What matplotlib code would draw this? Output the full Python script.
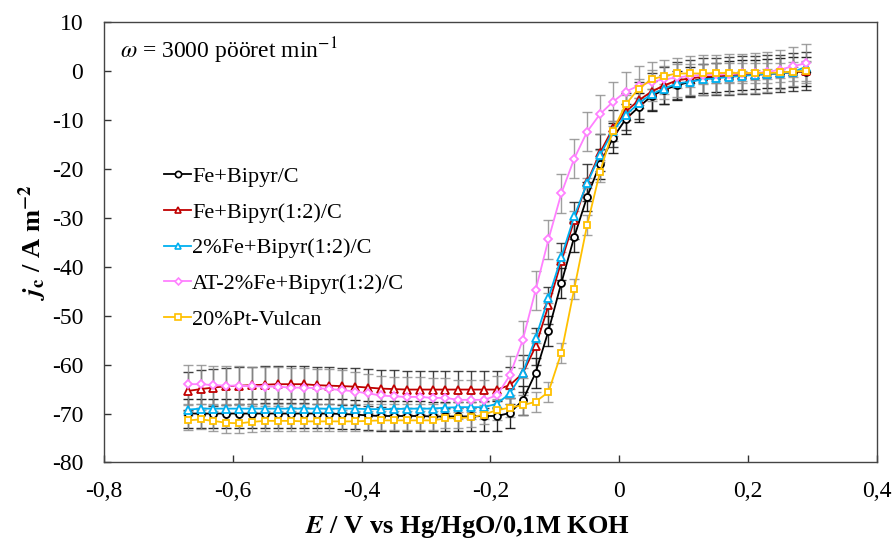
import matplotlib
matplotlib.use("Agg")
import matplotlib.pyplot as plt
from matplotlib.ticker import FuncFormatter, MultipleLocator
from matplotlib.lines import Line2D

plt.rcParams['font.family'] = ['Liberation Serif', 'DejaVu Serif']
plt.rcParams['mathtext.fontset'] = 'stix'

# potential, V vs Hg/HgO
E = [-0.67, -0.65, -0.63, -0.61, -0.59, -0.57, -0.55, -0.53, -0.51, -0.49,
     -0.47, -0.45, -0.43, -0.41, -0.39, -0.37, -0.35, -0.33, -0.31, -0.29,
     -0.27, -0.25, -0.23, -0.21, -0.19, -0.17, -0.15, -0.13, -0.11, -0.09,
     -0.07, -0.05, -0.03, -0.01, 0.01, 0.03, 0.05,
     0.07, 0.09, 0.11, 0.13, 0.15, 0.17, 0.19, 0.21, 0.23, 0.25, 0.27, 0.29]

fe_bipyr = [-70.0, -70.0, -70.0, -70.0, -70.0, -70.0, -70.0, -70.0, -70.0, -70.0,
            -70.0, -70.0, -70.1, -70.2, -70.4, -70.5, -70.5, -70.5, -70.5, -70.6,
            -70.6, -70.6, -70.6, -70.5, -70.5, -69.9, -67.3, -61.7, -53.1, -43.3,
            -33.9, -25.7, -19.0, -13.7, -9.8, -7.4, -5.1,
            -3.8, -2.9, -2.2, -1.5, -1.3, -1.0, -0.8, -0.7, -0.5, -0.4, -0.2, -0.1]

fe_bipyr_12 = [-65.4, -65.0, -64.7, -64.4, -64.3, -64.2, -64.1, -64.0, -64.0, -64.0,
               -64.2, -64.3, -64.4, -64.5, -64.7, -64.9, -65.0, -65.1, -65.1, -65.1,
               -65.1, -65.1, -65.1, -65.1, -65.1, -64.2, -61.8, -56.3, -47.9, -38.9,
               -30.5, -22.7, -16.7, -11.7, -8.3, -6.0, -4.2,
               -2.9, -1.9, -1.5, -1.2, -1.1, -1.0, -0.8, -0.8, -0.6, -0.5, -0.2, 0.0]

fe2_bipyr_12 = [-69.2, -69.0, -69.0, -69.0, -69.0, -69.0, -69.0, -69.0, -69.0, -69.0,
                -69.0, -69.0, -69.0, -69.0, -69.1, -69.1, -69.1, -69.0, -69.0, -69.0,
                -68.8, -68.7, -68.7, -68.7, -68.0, -65.9, -61.7, -54.6, -46.4, -38.0,
                -29.7, -22.9, -17.2, -12.3, -9.0, -6.6, -4.7,
                -3.6, -2.5, -2.2, -1.7, -1.5, -1.2, -1.0, -0.8, -0.6, -0.5, -0.2, 0.9]

at_fe2_bipyr_12 = [-64.0, -64.0, -64.2, -64.3, -64.3, -64.4, -64.5, -64.5, -64.7, -64.7,
                   -64.8, -65.0, -65.2, -65.5, -65.9, -66.3, -66.5, -66.6, -66.6, -66.8,
                   -66.8, -67.2, -67.2, -67.2, -66.3, -62.2, -55.0, -44.8, -34.4, -25.0,
                   -17.9, -12.4, -8.8, -6.3, -4.2, -3.0, -2.2,
                   -1.7, -1.3, -1.0, -0.8, -0.7, -0.6, -0.5, -0.4, -0.2, 0.3, 1.0, 1.6]

pt_vulcan = [-71.4, -71.2, -71.5, -71.9, -72.0, -71.7, -71.5, -71.5, -71.5, -71.6,
             -71.6, -71.6, -71.6, -71.6, -71.5, -71.4, -71.4, -71.4, -71.4, -71.4,
             -71.0, -70.9, -70.8, -70.2, -69.3, -68.8, -68.3, -67.6, -65.6, -57.6,
             -44.5, -31.5, -20.6, -12.2, -6.8, -3.6, -1.7,
             -1.0, -0.5, -0.5, -0.5, -0.4, -0.4, -0.4, -0.4, -0.4, -0.3, -0.1, 0.0]

# error bar half-widths (approx.)
err = [3.0, 3.8, 1.0, 4.0, 2.0]

labels = ["Fe+Bipyr/C", "Fe+Bipyr(1:2)/C", "2%Fe+Bipyr(1:2)/C",
          "AT-2%Fe+Bipyr(1:2)/C", "20%Pt-Vulcan"]
series = [fe_bipyr, fe_bipyr_12, fe2_bipyr_12, at_fe2_bipyr_12, pt_vulcan]
colors = ["#000000", "#C00000", "#00B0F0", "#FF80FF", "#FFC000"]
markers = ["o", "^", "^", "D", "s"]
msizes = [5, 5.5, 5.5, 4, 5]
err_colors = ["#000000", "#222222", "#909090", "#909090", "#909090"]

fig = plt.figure(figsize=(8.94, 5.39), dpi=100)
ax = fig.add_axes([0.1163, 0.142, 0.8647, 0.817])

# error bars first (behind curves)
for y, e, ec in zip(series, err, err_colors):
    ax.errorbar(E, y, yerr=e, fmt='none', ecolor=ec, elinewidth=1.0,
                capsize=3.5, capthick=1.0, alpha=0.85, zorder=1)

handles = []
for y, c, m, ms, lab in zip(series, colors, markers, msizes, labels):
    ax.plot(E, y, color=c, lw=1.3, marker=m, ms=ms, mfc='white', mec=c,
            mew=1.3, zorder=3)
    handles.append(Line2D([], [], color=c, lw=1.3, marker=m, ms=ms - 0.5,
                          mfc='white', mec=c, mew=1.2))

ax.set_xlim(-0.8, 0.4)
ax.set_ylim(-80, 10)
ax.xaxis.set_major_locator(MultipleLocator(0.2))
ax.yaxis.set_major_locator(MultipleLocator(10))


def comma_fmt(v, pos):
    if abs(v) < 1e-9:
        return "0"
    return ("%g" % round(v, 2)).replace(".", ",")


def int_fmt(v, pos):
    return "%d" % round(v)


ax.xaxis.set_major_formatter(FuncFormatter(comma_fmt))
ax.yaxis.set_major_formatter(FuncFormatter(int_fmt))
ax.tick_params(direction='in', length=5, width=1, labelsize=17,
               top=False, right=False, colors='#333333', labelcolor='black')
ax.tick_params(axis='x', pad=13)
ax.tick_params(axis='y', pad=15)
for s in ax.spines.values():
    s.set_linewidth(1.0)
    s.set_color('#444444')

ax.set_xlabel(r'$\boldsymbol{E}$ / V vs Hg/HgO/0,1M KOH', fontsize=19,
              fontweight='bold')
ax.xaxis.set_label_coords(0.47, -0.118)
ax.set_ylabel(r'$\boldsymbol{j}_\mathbf{c}$ / A m$^{\mathbf{-2}}$', fontsize=19,
              fontweight='bold', labelpad=2)

ax.text(0.021, 0.936, r'$\omega$ = 3000 pööret min$^{-1}$', transform=ax.transAxes,
        fontsize=17, va='center', ha='left')

ax.legend(handles, labels, loc='upper left', bbox_to_anchor=(0.078, 0.672),
          frameon=False, fontsize=16, handlelength=1.2, handletextpad=0.05,
          labelspacing=0.68, borderaxespad=0, borderpad=0)

fig.savefig("out.png", dpi=100)
